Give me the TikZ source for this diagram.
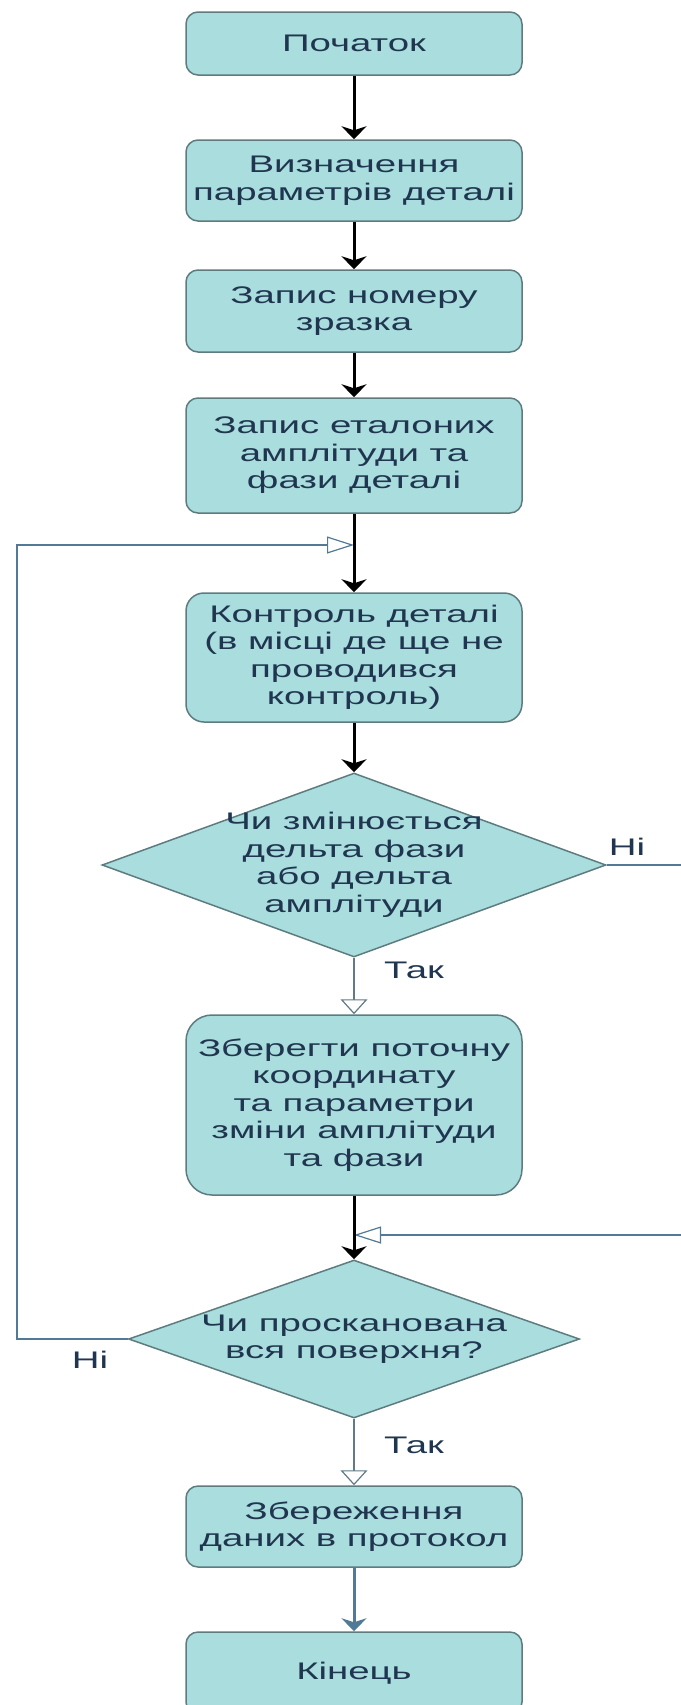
\documentclass[tikz,border=0pt]{standalone}
\usepackage{fontspec}
\setmainfont[FakeStretch=1.6]{Liberation Sans}
\usetikzlibrary{shapes.geometric}
\usetikzlibrary{arrows.meta}
\definecolor{boxfill}{RGB}{170,221,221}
\definecolor{boxline}{RGB}{94,124,128}
\definecolor{txtcol}{RGB}{32,54,80}
\definecolor{loopcol}{RGB}{82,122,150}
\definecolor{yescol}{RGB}{98,122,136}
\tikzset{>=latex}
\tikzset{
  stage/.style={draw=boxline,fill=boxfill,line width=1.5pt,rounded corners=12pt,
    minimum width=336pt,inner sep=0pt,align=center,text=txtcol},
  choice/.style={diamond,draw=boxline,fill=boxfill,line width=1.5pt,inner sep=0pt},
  caption/.style={text=txtcol,align=center,inner sep=0pt},
  flow/.style={black,line width=3pt,-{Stealth[length=13pt,width=25pt,inset=4pt]}},
  loopline/.style={loopcol,line width=2.5pt},
  yesline/.style={yescol,line width=2.5pt},
  openv/.style={-{Triangle[open,fill=white,line width=1.2pt,length=15pt,width=27pt]}},
  openh/.style={-{Triangle[open,fill=white,line width=1.2pt,length=27pt,width=17pt]}}
}

\begin{document}
\begin{tikzpicture}[x=1pt,y=-1pt,font=\fontsize{24}{27.5}\selectfont]
    \useasboundingbox (0,0) rectangle (680,1705);

    \coordinate (s1) at (354, 43.5);
    \coordinate (s2) at (354, 180.5);
    \coordinate (s3) at (354, 311);
    \coordinate (s4) at (354, 455.5);
    \coordinate (s5) at (354, 657.5);
    \coordinate (c1) at (354, 865);
    \coordinate (s6) at (354, 1105);
    \coordinate (c2) at (354, 1339);
    \coordinate (s7) at (354, 1526.5);
    \coordinate (s8) at (354, 1673);

    \node [stage,minimum height=63pt] (start) at (s1) {Початок};
    \node [stage,minimum height=81pt] (params) at (s2)
    {Визначення\\параметрів деталі};
    \node [stage,minimum height=82pt] (number) at (s3)
    {Запис номеру\\зразка};
    \node [stage,minimum height=115pt] (etalon) at (s4)
    {Запис еталоних\\амплітуди та\\фази деталі};
    \node [stage,minimum height=129pt,rounded corners=18pt] (control) at (s5)
    {Контроль деталі\\(в місці де ще не\\проводився\\контроль)};

    \node [choice,minimum width=504pt,minimum height=184pt] (ask1) at (c1) {};
    \node [caption] (ask1text) at (c1)
    {Чи змінюється\\дельта фази\\або дельта\\амплітуди};

    \node [stage,minimum height=180pt,rounded corners=26pt] (store) at (s6)
    {Зберегти поточну\\координату\\та параметри\\зміни амплітуди\\та фази};

    \node [choice,minimum width=451pt,minimum height=158pt] (ask2) at (c2) {};
    \node [caption] (ask2text) at (c2)
    {Чи просканована\\вся поверхня?};

    \node [stage,minimum height=81pt] (save) at (s7)
    {Збереження\\даних в протокол};
    \node [stage,minimum height=82pt] (finish) at (s8) {Кінець};

    \node [caption] (no1) at (627, 847) {Ні};
    \node [caption] (yes1) at (414, 970) {Так};
    \node [caption] (no2) at (90, 1360) {Ні};
    \node [caption] (yes2) at (414, 1445) {Так};

    % loops back
    \coordinate (lb) at (17, 1339);
    \coordinate (lt) at (17, 545);
    \coordinate (jn1) at (354, 545);
    \coordinate (rt) at (700, 865);
    \coordinate (rb) at (700, 1235);
    \coordinate (jn2) at (354, 1235);

    \draw [loopline,openh] (ask2.west) -- (lb) -- (lt) -- (jn1);
    \draw [loopline,openh] (ask1.east) -- (rt) -- (rb) -- (jn2);

    \draw [yesline,openv] (ask1.south) -- (store.north);
    \draw [yesline,openv] (ask2.south) -- (save.north);

    \draw [flow] (start) -- (params);
    \draw [flow] (params) -- (number);
    \draw [flow] (number) -- (etalon);
    \draw [flow] (etalon) -- (control);
    \draw [flow] (control) -- (ask1);
    \draw [flow] (store) -- (ask2);
    \draw [flow,loopcol] (save) -- (finish);

  \end{tikzpicture}
\end{document}
